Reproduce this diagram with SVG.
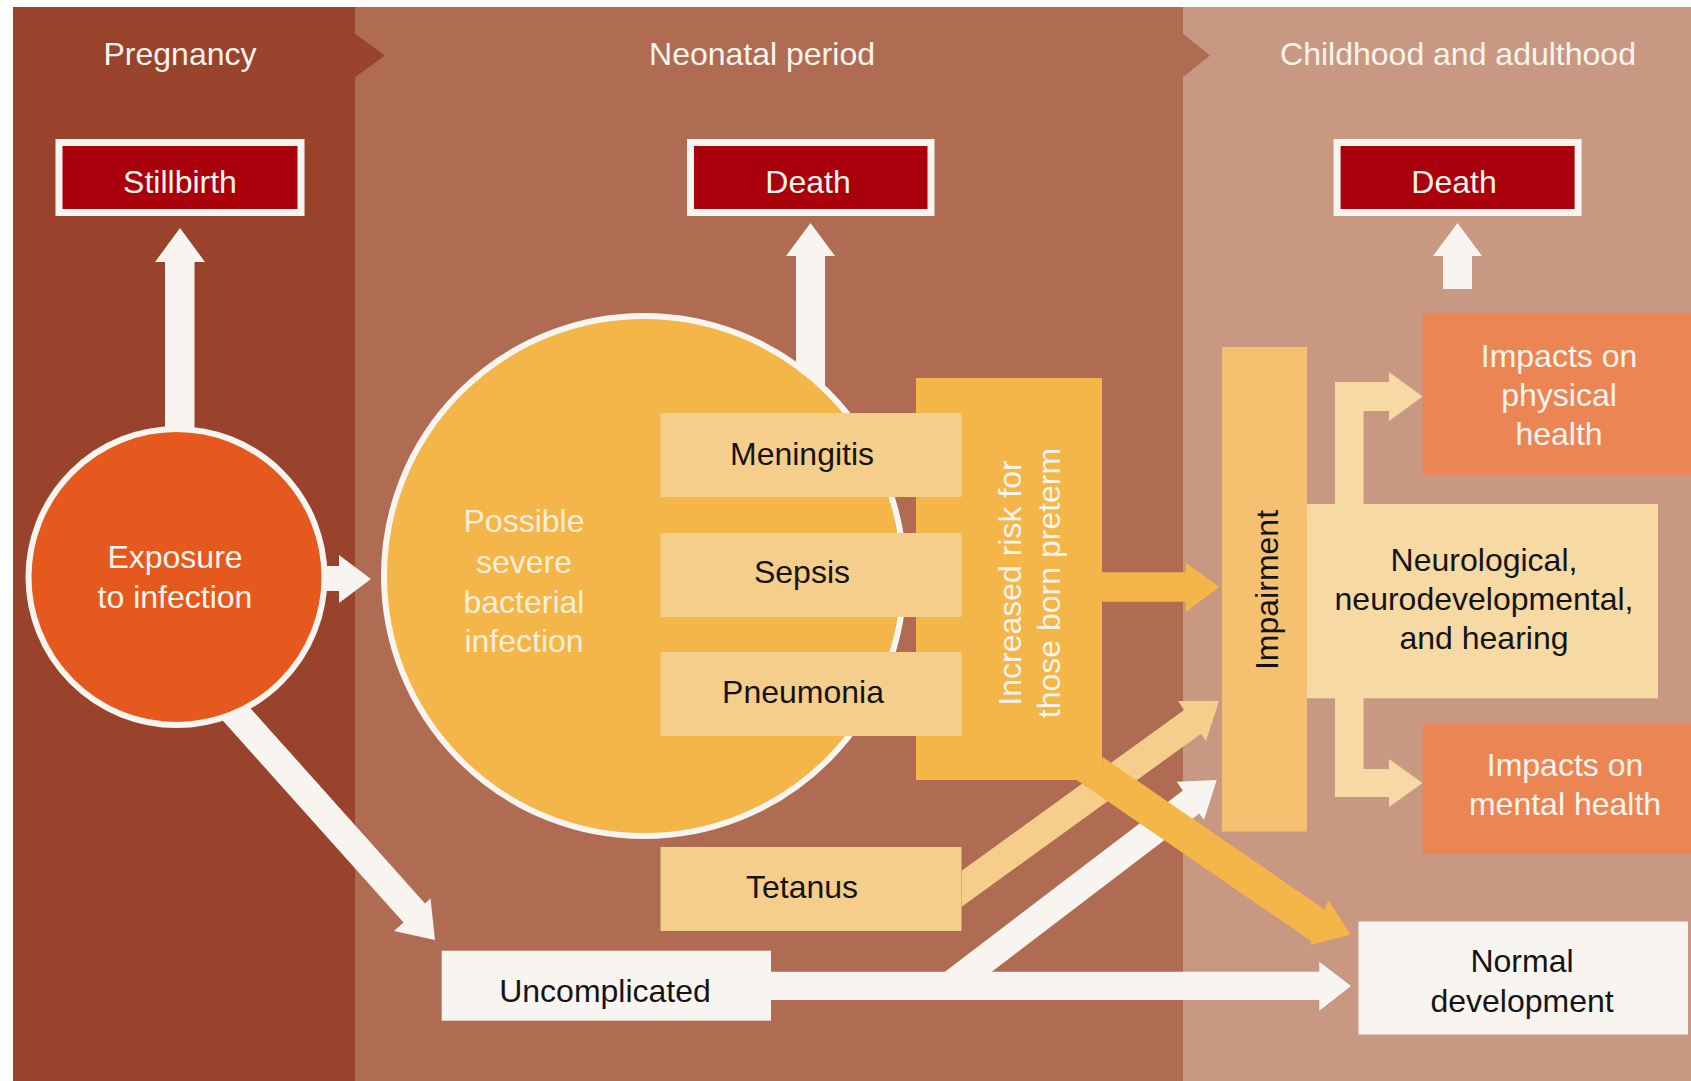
<svg xmlns="http://www.w3.org/2000/svg" width="1691" height="1081" viewBox="0 0 1691 1081">
<style>
text { font-family: "Liberation Sans", Arial, Helvetica, sans-serif; font-size: 32px; text-anchor: middle; }
.wt { fill: #FAF4EE; }
.ct { fill: #FBEEDB; }
.kt { fill: #141414; }
.white { fill: #F8F5F0; }
.death { fill: #AA000C; stroke: #F8F5F0; stroke-width: 7; }
.orange { fill: #F4B648; }
.light { fill: #F6CE8B; }
.beige { fill: #F7D9A3; }
.impact { fill: #EC8554; }
</style>
<rect x="0" y="0" width="1691" height="1081" fill="#FFFFFF"/>
<g id="background">
  <rect x="13" y="7" width="342" height="1074" fill="#99432D"/>
  <rect x="355" y="7" width="828" height="1074" fill="#AF6C52"/>
  <rect x="1183" y="7" width="508" height="1074" fill="#C99882"/>
  <polygon points="354,33 385,55.5 354,78" fill="#99432D"/>
  <polygon points="1182,33 1210,55.5 1182,78" fill="#AF6C52"/>
  <text x="180" y="65" class="wt">Pregnancy</text>
  <text x="762" y="65" class="wt">Neonatal period</text>
  <text x="1458" y="65" class="wt">Childhood and adulthood</text>
</g>
<g id="connectors">
  <polygon class="white" points="165,430 165,262 155,262 180,228 205,262 194.5,262 194.5,430"/>
  <polygon class="white" points="796,420 796,256 786,256 810.5,223 835,256 825,256 825,420"/>
  <polygon class="white" points="1443,289 1443,256 1433,256 1457.5,223 1482,256 1472,256 1472,289"/>
  <polygon class="white" points="322,566 339,566 339,555 371,579 339,603 339,591 322,591"/>
  <polygon class="white" points="216,713 403.5,922.6 394,931 435,940 430.5,898.5 425,903.4 244,701"/>
  <polygon class="light" points="961.7,870.7 1184.2,709.9 1178,701 1219,701 1206,741 1201,733.8 961.7,906.7"/>
  <polygon class="white" points="927.6,985 1182.9,790.4 1176.7,781.7 1216.7,780 1204,820 1199.3,813.5 974.3,985"/>
  <polygon class="white" points="768,971.7 1319.3,971.7 1319.3,961.7 1351,986 1319.3,1010.7 1319.3,1000 768,1000"/>
  <polygon class="orange" points="1102.3,756.7 1324.5,909.4 1328.3,900 1350.5,934.5 1310,945 1311.5,941.3 1076.7,780 1102,780"/>
  <polygon class="orange" points="1100,572.3 1186,572.3 1186,562.7 1219.3,587 1186,611.7 1186,601.7 1100,601.7"/>
  <polygon class="beige" points="1335,506 1335,382 1389,382 1389,372 1422.6,396.5 1389,421 1389,411 1363.6,411 1363.6,506"/>
  <polygon class="beige" points="1335,696 1335,797 1389,797 1389,807 1422.6,783 1389,759 1389,769 1363.6,769 1363.6,696"/>
</g>
<g id="stillbirth">
  <rect x="59" y="142.5" width="242" height="70" class="death"/>
  <text x="180" y="193" class="wt">Stillbirth</text>
</g>
<g id="death-neonatal">
  <rect x="690.5" y="142.5" width="240.5" height="70" class="death"/>
  <text x="808" y="193" class="wt">Death</text>
</g>
<g id="death-childhood">
  <rect x="1337.1" y="142.5" width="241" height="70" class="death"/>
  <text x="1454" y="193" class="wt">Death</text>
</g>
<g id="exposure">
  <circle cx="176.5" cy="577" r="148" fill="#E5591E" stroke="#F8F5F0" stroke-width="6"/>
  <text x="175" y="568" class="wt">Exposure</text>
  <text x="175" y="608" class="wt">to infection</text>
</g>
<g id="psbi">
  <circle cx="644" cy="576" r="260" class="orange" stroke="#F8F5F0" stroke-width="6"/>
  <text x="524" y="532" class="ct">Possible</text>
  <text x="524" y="573" class="ct">severe</text>
  <text x="524" y="613" class="ct">bacterial</text>
  <text x="524" y="652" class="ct">infection</text>
</g>
<g id="increased-risk">
  <rect x="916" y="378" width="186" height="402" class="orange"/>
  <text transform="translate(1021,583) rotate(-90)" class="wt">Increased risk for</text>
  <text transform="translate(1060,583) rotate(-90)" class="wt">those born preterm</text>
</g>
<g id="meningitis">
  <rect x="660.5" y="413" width="301" height="84" class="light"/>
  <text x="802" y="465" class="kt">Meningitis</text>
</g>
<g id="sepsis">
  <rect x="660.5" y="533" width="301" height="84" class="light"/>
  <text x="802" y="583" class="kt">Sepsis</text>
</g>
<g id="pneumonia">
  <rect x="660.5" y="652" width="301" height="84" class="light"/>
  <text x="803" y="703" class="kt">Pneumonia</text>
</g>
<g id="tetanus">
  <rect x="660.5" y="847" width="301" height="84" class="light"/>
  <text x="802" y="898" class="kt">Tetanus</text>
</g>
<g id="uncomplicated">
  <rect x="441.7" y="950.7" width="329.3" height="70" class="white"/>
  <text x="605" y="1002" class="kt">Uncomplicated</text>
</g>
<g id="impairment">
  <rect x="1222" y="347" width="85" height="484.5" fill="#F5C170"/>
  <text transform="translate(1278,590) rotate(-90)" class="kt">Impairment</text>
</g>
<g id="neurological">
  <rect x="1307" y="504" width="351" height="194.3" class="beige"/>
  <text x="1484" y="571" class="kt">Neurological,</text>
  <text x="1484" y="610" class="kt">neurodevelopmental,</text>
  <text x="1484" y="649" class="kt">and hearing</text>
</g>
<g id="physical">
  <rect x="1422.6" y="313" width="268.4" height="162" class="impact"/>
  <text x="1559" y="367" class="wt">Impacts on</text>
  <text x="1559" y="406" class="wt">physical</text>
  <text x="1559" y="445" class="wt">health</text>
</g>
<g id="mental">
  <rect x="1422.6" y="723" width="268.4" height="131" class="impact"/>
  <text x="1565" y="776" class="wt">Impacts on</text>
  <text x="1565" y="815" class="wt">mental health</text>
</g>
<g id="normal">
  <rect x="1358.5" y="921.5" width="329.5" height="113" class="white"/>
  <text x="1522" y="972" class="kt">Normal</text>
  <text x="1522" y="1012" class="kt">development</text>
</g>
</svg>
